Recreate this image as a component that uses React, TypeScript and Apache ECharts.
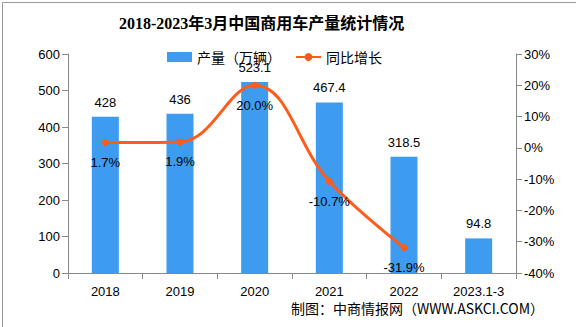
import React, { useEffect, useRef } from "react";
import * as echarts from "echarts";

const categories = ["2018", "2019", "2020", "2021", "2022", "2023.1-3"];
const production = [428, 436, 523.1, 467.4, 318.5, 94.8];
const growth = [1.7, 1.9, 20.0, -10.7, -31.9, null];

const FONT = "'Liberation Sans', 'Noto Sans CJK SC', sans-serif";

export default function App() {
  const ref = useRef<HTMLDivElement>(null);
  useEffect(() => {
    const chart = echarts.init(ref.current!, undefined, { renderer: "svg" });
    chart.setOption({
      animation: false,
      backgroundColor: "#fff",
      textStyle: { fontFamily: FONT },
      title: {
        text: "2018-2023年3月中国商用车产量统计情况",
        left: 114,
        top: 10,
        textStyle: { fontSize: 16, fontWeight: "bold", color: "#000", fontFamily: "'Liberation Serif', 'Noto Sans CJK SC', serif" },
      },
      legend: {
        top: 45,
        left: 162,
        itemGap: 14,
        textStyle: { fontSize: 14, color: "#000", fontFamily: "'Noto Sans CJK SC', sans-serif" },
        data: [
          { name: "产量（万辆）", icon: "rect", itemStyle: { color: "#3d9bf0" } },
          { name: "同比增长" },
        ],
        itemWidth: 25,
        itemHeight: 10,
      },
      graphic: [
        {
          type: "rect",
          left: 0,
          top: 0,
          shape: { x: 0.5, y: 0.5, width: 575, height: 326 },
          style: { fill: "none", stroke: "#999", lineWidth: 1 },
        },
        {
          type: "text",
          right: 32,
          top: 301,
          style: {
            text: "制图：中商情报网（WWW.ASKCI.COM）",
            fontSize: 14,
            fill: "#000",
            fontFamily: "'Noto Sans CJK SC', sans-serif",
          },
        },
      ],
      grid: { left: 68, right: 60, top: 54, bottom: 54 },
      xAxis: {
        type: "category",
        data: categories,
        axisLine: { lineStyle: { color: "#888" } },
        axisTick: { show: true, alignWithLabel: false, length: 6, lineStyle: { color: "#888" } },
        axisLabel: { color: "#000", fontSize: 13, margin: 12 },
      },
      yAxis: [
        {
          type: "value",
          min: 0,
          max: 600,
          interval: 100,
          splitLine: { show: false },
          axisLine: { show: true, lineStyle: { color: "#888" } },
          axisTick: { show: true, length: 6, lineStyle: { color: "#888" } },
          axisLabel: { color: "#000", fontSize: 13 },
        },
        {
          type: "value",
          min: -40,
          max: 30,
          interval: 10,
          splitLine: { show: false },
          axisLine: { show: true, lineStyle: { color: "#888" } },
          axisTick: { show: true, length: 6, lineStyle: { color: "#888" } },
          axisLabel: { color: "#000", fontSize: 13, formatter: "{value}%" },
        },
      ],
      series: [
        {
          name: "产量（万辆）",
          type: "bar",
          data: production,
          barWidth: 27,
          itemStyle: { color: "#3d9bf0" },
          label: { show: true, position: "top", color: "#000", fontSize: 13, distance: 8 },
        },
        {
          name: "同比增长",
          type: "line",
          yAxisIndex: 1,
          data: growth,
          smooth: 0.4,
          symbol: "circle",
          symbolSize: 7,
          lineStyle: { color: "#ff5b1a", width: 3 },
          itemStyle: { color: "#ff5b1a" },
          label: {
            show: true,
            position: "bottom",
            distance: 10,
            color: "#000",
            fontSize: 13,
            formatter: (p: any) => p.value.toFixed(1) + "%",
          },
        },
      ],
    });
    return () => chart.dispose();
  }, []);
  return <div ref={ref} style={{ width: 576, height: 327, position: "absolute", left: 0, top: 0 }} />;
}
